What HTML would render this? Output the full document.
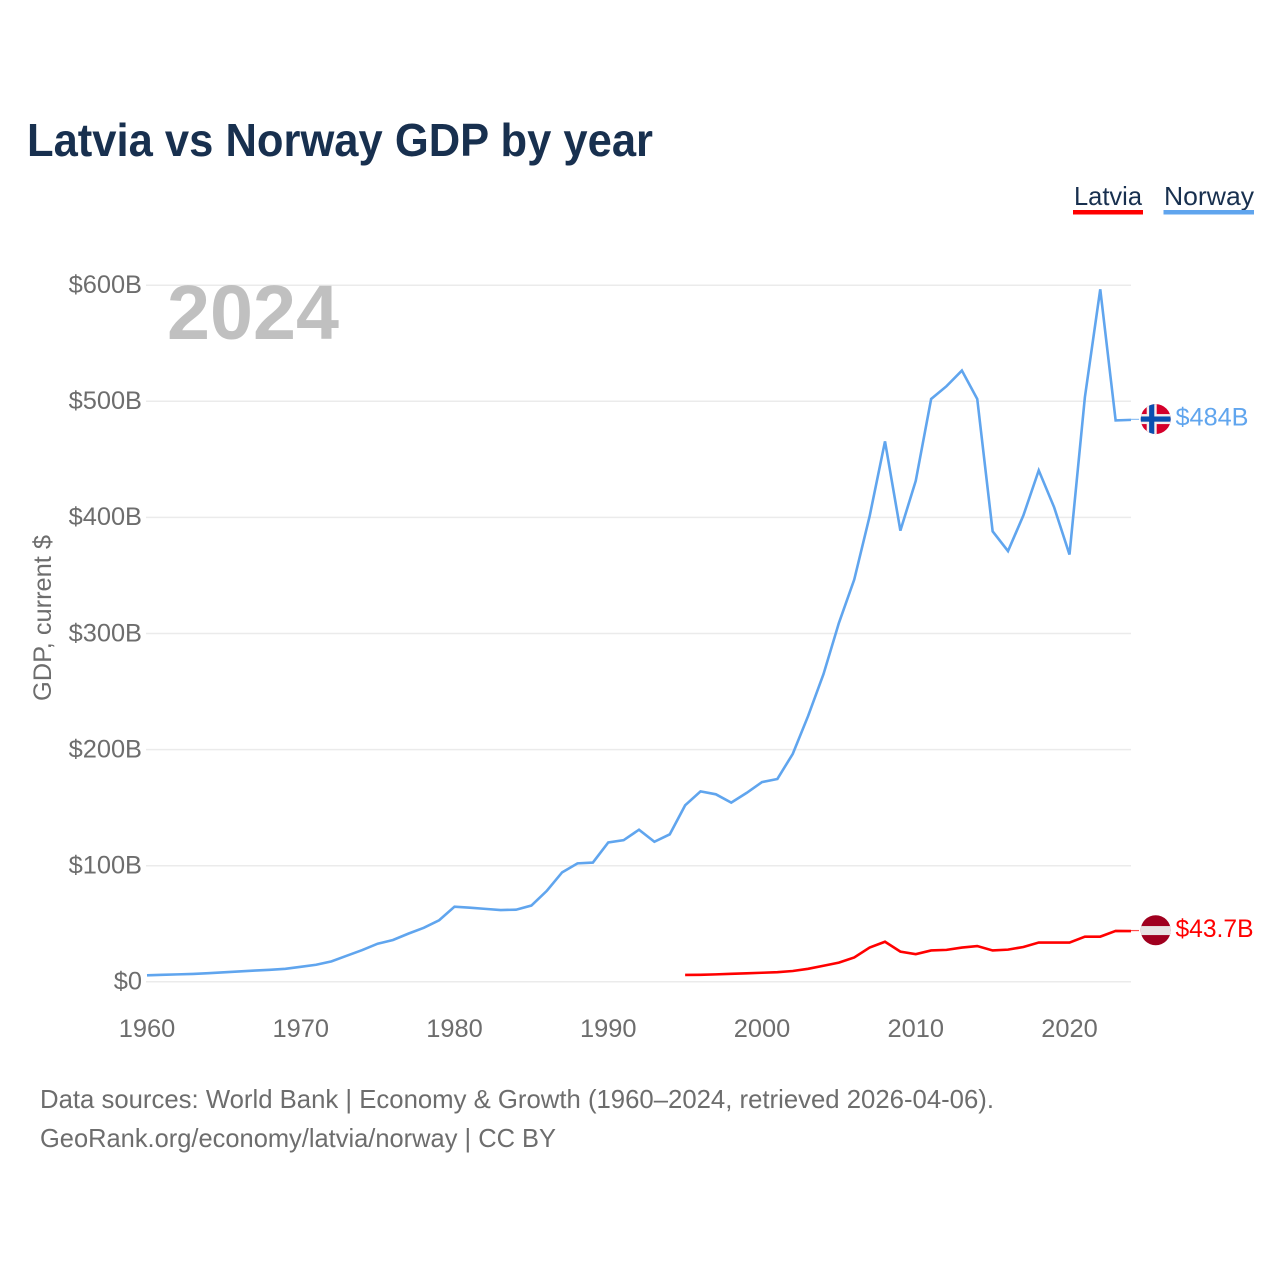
<!DOCTYPE html>
<html lang="en">
<head>
<meta charset="utf-8">
<title>Latvia vs Norway GDP by year</title>
<style>
html,body{margin:0;padding:0;background:#fff;width:1280px;height:1280px;overflow:hidden}
svg{display:block}
text{font-family:"Liberation Sans",sans-serif}
</style>
</head>
<body>
<svg id="chart" xmlns="http://www.w3.org/2000/svg" width="1280" height="1280" viewBox="0 0 1280 1280">
  <defs>
    <clipPath id="flag-clip-no"><circle cx="0" cy="0" r="15"/></clipPath>
    <clipPath id="flag-clip-lv"><circle cx="0" cy="0" r="15"/></clipPath>
  </defs>
  <rect width="1280" height="1280" fill="#ffffff"/>
  <text x="27" y="156" font-size="46" font-weight="700" fill="#18304f" textLength="626" lengthAdjust="spacingAndGlyphs">Latvia vs Norway GDP by year</text>

  <g style="cursor:pointer">
    <text x="1074" y="205" font-size="26" fill="#18304f" textLength="68" lengthAdjust="spacingAndGlyphs">Latvia</text>
    <rect x="1073" y="210" width="70" height="4.5" fill="#ff0000"/>
  </g>
  <g style="cursor:pointer">
    <text x="1164" y="205" font-size="26" fill="#18304f" textLength="90" lengthAdjust="spacingAndGlyphs">Norway</text>
    <rect x="1163.5" y="210" width="90.5" height="4.5" fill="#60a5ee"/>
  </g>

  <text transform="translate(51,618) rotate(-90)" text-anchor="middle" font-size="25" fill="#6d6d6d" textLength="166" lengthAdjust="spacingAndGlyphs">GDP, current $</text>

  <g id="grid"></g>
  <g id="yticks"></g>
  <g id="xticks"></g>

  <text x="167" y="339" font-size="77" font-weight="700" fill="#c0c0c0" textLength="172" lengthAdjust="spacingAndGlyphs">2024</text>

  <g id="series"></g>
  <g id="ends"></g>

  <text x="40" y="1108" font-size="26" fill="#6d6d6d" textLength="954" lengthAdjust="spacingAndGlyphs">Data sources: World Bank | Economy &amp; Growth (1960–2024, retrieved 2026-04-06).</text>
  <text x="40" y="1147" font-size="26" fill="#6d6d6d" textLength="516" lengthAdjust="spacingAndGlyphs">GeoRank.org/economy/latvia/norway | CC BY</text>
</svg>
<script>
// Data, in billions of current US dollars
const norwayStartYear = 1960;
const norwayValues = [5.6,6.0,6.4,6.8,7.4,8.2,8.9,9.7,10.3,11.2,12.9,14.7,17.6,22.5,27.3,32.8,36.0,41.5,46.5,53.0,64.7,63.8,62.8,61.8,62.1,65.7,78.3,94.3,102.0,102.7,120.0,122.0,131.0,120.6,127.0,152.0,164.0,161.5,154.3,162.7,172.0,174.7,196.3,229.0,265.0,309.0,346.5,401.0,465.5,388.6,431.5,502.0,513.0,526.5,502.0,388.0,371.0,401.7,440.5,408.7,368.0,503.5,596.5,483.5,484.0];
const latviaStartYear = 1995;
const latviaValues = [5.9,6.0,6.4,6.9,7.3,7.8,8.3,9.3,11.2,13.8,16.5,21.0,29.5,34.5,26.0,23.8,27.0,27.5,29.5,30.8,27.0,27.7,30.0,33.8,33.8,33.8,38.9,38.9,43.8,43.7];
const yTickValues = [0,100,200,300,400,500,600];
const yTickLabels = ["$0","$100B","$200B","$300B","$400B","$500B","$600B"];
const xTickYears = [1960,1970,1980,1990,2000,2010,2020];
const norwayEndLabel = "$484B";
const latviaEndLabel = "$43.7B";

const NS = "http://www.w3.org/2000/svg";
const X_MIN = 1960, X_MAX = 2024, Y_MIN = 0, Y_MAX = 600;
const PX_LEFT = 147, PX_RIGHT = 1131, PX_BOTTOM = 981.8, PX_TOP = 285.2;
const xScale = (yr) => PX_LEFT + (yr - X_MIN) / (X_MAX - X_MIN) * (PX_RIGHT - PX_LEFT);
const yScale = (v) => PX_BOTTOM - (v - Y_MIN) / (Y_MAX - Y_MIN) * (PX_BOTTOM - PX_TOP);

function mk(tag, attrs, parent) {
  const el = document.createElementNS(NS, tag);
  for (const k in attrs) el.setAttribute(k, attrs[k]);
  parent.appendChild(el);
  return el;
}

const grid = document.getElementById("grid");
const yticks = document.getElementById("yticks");
const xticks = document.getElementById("xticks");
const series = document.getElementById("series");
const ends = document.getElementById("ends");

yTickValues.forEach((v, i) => {
  const line = mk("line", {x1: PX_LEFT - 1, x2: PX_RIGHT, y1: yScale(v), y2: yScale(v), stroke: "#ebebeb", "stroke-width": 1.5}, grid);
  
  
  const t = mk("text", {x: 142, y: yScale(v) + 7.8, "text-anchor": "end", "font-size": 25.4, fill: "#6d6d6d"}, yticks);
  t.textContent = yTickLabels[i];
  
  
});

xTickYears.forEach((yr) => {
  const t = mk("text", {x: xScale(yr), y: 1037, "text-anchor": "middle", "font-size": 25.4, fill: "#6d6d6d"}, xticks);
  t.textContent = String(yr);
  
  
});

function linePoints(startYear, values) {
  return values.map((v, i) => xScale(startYear + i).toFixed(2) + "," + yScale(v).toFixed(2)).join(" ");
}

const norwayLine = mk("polyline", {points: linePoints(norwayStartYear, norwayValues), fill: "none", stroke: "#60a5ee", "stroke-width": 2.6, "stroke-linejoin": "miter"}, series);



const latviaLine = mk("polyline", {points: linePoints(latviaStartYear, latviaValues), fill: "none", stroke: "#ff0000", "stroke-width": 2.6, "stroke-linejoin": "miter"}, series);



const FLAG_X = 1155.7;

function endMarker(lastValue, lastYear, color, label, labelWidth) {
  const yy = yScale(lastValue);
  const c = mk("line", {x1: xScale(lastYear), x2: 1139, y1: yy - 0.5, y2: yy - 0.5, stroke: color, "stroke-width": 1.2, "stroke-opacity": 0.7}, ends);
  
  
  const t = mk("text", {x: 1175.5, y: yy + 5.8, "font-size": 25.4, fill: color, textLength: labelWidth, lengthAdjust: "spacingAndGlyphs"}, ends);
  t.textContent = label;
  
  
  return yy - 0.8;
}

// Norway end marker and flag
const noY = endMarker(norwayValues[norwayValues.length - 1], norwayStartYear + norwayValues.length - 1, "#60a5ee", norwayEndLabel, 73);
const noFlag = mk("g", {transform: "translate(" + FLAG_X + "," + noY + ")", "clip-path": "url(#flag-clip-no)"}, ends);


mk("rect", {x: -16, y: -16, width: 32, height: 32, fill: "#d5002b"}, noFlag);
mk("rect", {x: -16, y: -5, width: 32, height: 10, fill: "#f4eeee"}, noFlag);
mk("rect", {x: -9, y: -16, width: 10, height: 32, fill: "#f4eeee"}, noFlag);
mk("rect", {x: -16, y: -2.6, width: 32, height: 5.2, fill: "#0a4fb0"}, noFlag);
mk("rect", {x: -6.6, y: -16, width: 5.2, height: 32, fill: "#0a4fb0"}, noFlag);

// Latvia end marker and flag
const lvY = endMarker(latviaValues[latviaValues.length - 1], latviaStartYear + latviaValues.length - 1, "#ff0000", latviaEndLabel, 78);
const lvFlag = mk("g", {transform: "translate(" + FLAG_X + "," + lvY + ")", "clip-path": "url(#flag-clip-lv)"}, ends);


mk("rect", {x: -16, y: -16, width: 32, height: 32, fill: "#a0001f"}, lvFlag);
mk("rect", {x: -16, y: -4.2, width: 32, height: 9, fill: "#e9e4e4"}, lvFlag);
</script>
</body>
</html>
